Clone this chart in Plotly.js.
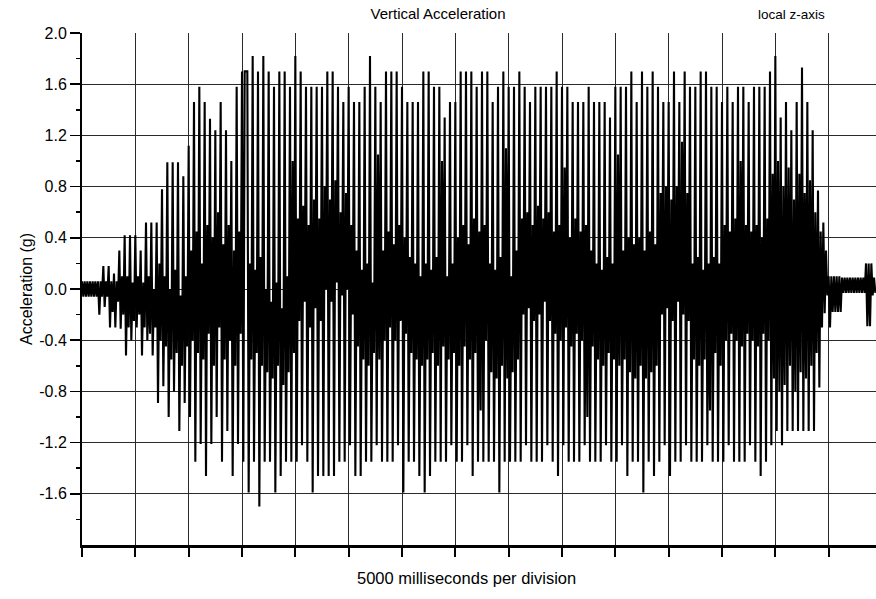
<!DOCTYPE html>
<html><head><meta charset="utf-8">
<script src="https://cdn.plot.ly/plotly-3.0.1.min.js"></script>
<style>html,body{margin:0;padding:0;background:#fff}</style>
</head><body><div id="chart" style="width:876px;height:599px"></div>
<script>
// sample spacing of the recorded trace (ms); 4 samples per oscillation cycle
const sampleStepMs = 125;
// per oscillation cycle: upper peak, lower peak, rebound high, rebound low (g)
const cycleHigh = [
 0.06,0.06,0.06,0.06,0.18,0.18,0.12,0.30,0.42,0.42,
 0.42,0.30,0.52,0.52,0.52,0.78,0.99,0.99,0.99,0.88,
 1.12,1.46,1.58,1.46,1.33,1.24,1.46,1.24,1.00,1.58,
 1.70,1.70,1.82,1.70,1.82,1.70,1.58,1.70,1.70,1.58,
 1.82,1.70,1.58,1.58,1.58,1.58,1.70,1.70,1.58,1.46,
 1.58,1.46,1.46,1.58,1.82,1.58,1.46,1.70,1.70,1.70,
 1.58,1.46,1.46,1.46,1.70,1.70,1.58,1.58,1.34,1.46,
 1.46,1.70,1.70,1.70,1.58,1.70,1.70,1.46,1.58,1.70,
 1.58,1.58,1.70,1.58,1.46,1.58,1.58,1.58,1.58,1.70,
 1.58,1.58,1.46,1.46,1.46,1.58,1.46,1.46,1.46,1.34,
 1.58,1.58,1.58,1.70,1.46,1.70,1.58,1.70,1.58,1.46,
 1.46,1.70,1.46,1.70,1.58,1.58,1.70,1.70,1.58,1.58,
 1.46,1.58,1.46,1.58,1.58,1.46,1.58,1.58,1.58,1.70,
 1.82,1.34,1.46,1.24,1.46,1.73,1.46,1.24,0.77,0.52,
 0.10,0.10,0.10,0.09,0.09,0.09,0.09,0.20,0.20
];
const cycleLow = [
 -0.06,-0.06,-0.06,-0.20,-0.14,-0.30,-0.30,-0.31,-0.52,-0.40,
 -0.30,-0.52,-0.40,-0.52,-0.89,-0.76,-1.00,-0.80,-1.11,-0.89,
 -1.00,-1.35,-1.21,-1.46,-1.21,-1.00,-1.35,-1.11,-1.46,-1.21,
 -1.35,-1.59,-1.35,-1.70,-1.35,-1.35,-1.59,-1.46,-1.35,-1.35,
 -1.35,-1.22,-1.35,-1.59,-1.46,-1.46,-1.46,-1.46,-1.35,-1.35,
 -1.22,-1.46,-1.46,-1.35,-1.35,-1.22,-1.35,-1.35,-1.35,-1.22,
 -1.59,-1.35,-1.35,-1.46,-1.59,-1.46,-1.35,-1.35,-1.35,-1.22,
 -1.35,-1.35,-1.22,-1.46,-1.35,-1.35,-1.35,-1.35,-1.59,-1.35,
 -1.35,-1.35,-1.35,-1.22,-1.35,-1.35,-1.35,-1.22,-1.35,-1.46,
 -1.22,-1.35,-1.35,-1.35,-1.22,-1.35,-1.35,-1.35,-1.22,-1.35,
 -1.35,-1.22,-1.46,-1.35,-1.35,-1.59,-1.35,-1.46,-1.35,-1.22,
 -1.46,-1.35,-1.35,-1.22,-1.35,-1.35,-1.35,-1.22,-1.35,-1.35,
 -1.35,-1.22,-1.35,-1.35,-1.35,-1.22,-1.35,-1.46,-1.35,-1.22,
 -1.11,-1.22,-1.11,-1.11,-1.11,-1.11,-1.11,-1.11,-0.77,-0.19,
 -0.30,-0.18,-0.18,-0.03,-0.03,-0.03,-0.03,-0.29,-0.05
];
const reboundHigh = [
 0.06,0.06,0.06,0.06,0.06,0.06,0.06,0.10,0.10,0.05,
 0.10,0.05,0.10,0.00,0.20,0.10,0.00,0.15,-0.05,0.10,
 0.30,0.45,0.20,0.50,0.40,0.60,0.35,0.50,0.30,0.45,
 1.70,0.20,0.15,0.25,0.00,-0.10,0.05,-0.15,0.10,1.00,
 0.55,0.65,0.50,0.70,0.55,0.80,0.70,0.85,0.60,0.75,
 0.50,0.30,0.15,0.20,0.05,1.05,0.30,0.45,0.35,0.50,
 0.40,0.25,0.20,0.10,0.20,0.15,0.25,1.00,0.10,0.20,
 0.40,0.50,0.35,0.55,0.45,0.50,0.20,0.15,0.25,1.10,
 0.10,0.30,0.55,0.60,0.50,0.65,0.55,0.60,0.45,0.50,
 0.95,0.40,0.55,0.45,0.50,0.30,0.20,0.15,0.25,0.20,
 1.05,0.30,0.40,0.35,0.40,0.30,0.45,0.35,0.75,0.80,
 0.70,0.80,1.15,0.75,0.20,0.25,0.15,0.20,0.25,0.20,
 0.50,0.45,0.55,1.00,0.50,0.45,0.50,0.40,0.55,0.90,
 1.00,0.80,0.95,0.70,0.90,0.75,0.85,0.60,0.45,0.30,
 0.10,0.10,0.09,0.09,0.09,0.09,0.09,0.20,0.09
];
const reboundLow = [
 -0.06,-0.06,-0.06,-0.06,-0.06,-0.18,-0.10,-0.20,-0.30,-0.25,
 -0.20,-0.30,-0.35,-0.30,-0.40,-0.45,-0.55,-0.50,-0.60,-0.45,
 -0.40,-0.50,-0.55,-0.35,-0.60,-0.30,-0.55,-0.40,-0.60,-0.35,
 1.70,-0.55,-0.50,-0.60,-0.65,-0.70,-0.60,-0.75,-0.65,-0.50,
 -0.25,-0.10,-0.30,-0.15,-0.25,0.00,-0.10,0.05,-0.05,0.00,
 -0.20,-0.45,-0.55,-0.60,-0.50,-0.55,-0.40,-0.30,-0.40,-0.25,
 -0.35,-0.50,-0.55,-0.60,-0.55,-0.50,-0.60,-0.45,-0.55,-0.50,
 -0.60,-0.45,-0.55,-0.50,-0.95,-0.40,-0.65,-0.70,-0.60,-0.70,
 -0.65,-0.55,-0.20,-0.15,-0.25,-0.20,-0.10,-0.25,-0.35,-0.40,
 -0.30,-0.45,-0.35,-0.40,-1.00,-0.45,-0.55,-0.60,-0.50,-0.55,
 -0.60,-0.55,-0.65,-0.70,-0.60,-0.70,-0.65,-0.60,-0.20,-0.15,
 -0.25,-0.10,-0.20,-0.25,-0.55,-0.60,-0.55,-0.95,-0.50,-0.60,
 -0.40,-0.35,-0.40,-0.45,-0.35,-0.40,-0.45,-0.35,-0.40,-0.70,
 -0.80,-0.75,-0.60,-0.80,-0.65,-0.70,-0.60,-0.50,-0.30,-0.05,
 -0.18,-0.18,-0.03,-0.03,-0.03,-0.03,-0.03,-0.29,-0.03
];
const yTickVals = [2.0,1.6,1.2,0.8,0.4,0.0,-0.4,-0.8,-1.2,-1.6];
const yTickText = ['2.0','1.6','1.2','0.8','0.4','0.0','-0.4','-0.8','-1.2','-1.6'];
const yMinorVals = [1.8,1.4,1.0,0.6,0.2,-0.2,-0.6,-1.0,-1.4,-1.8];

// interleave the cycle tables into the sampled series
const accel = [];
cycleHigh.forEach((h, k) => { accel.push(h, cycleLow[k], reboundHigh[k], reboundLow[k]); });

const trace = {
  type:'scatter', mode:'lines',
  y: accel, x0: 0, dx: sampleStepMs,
  line:{color:'#000', width:2.1, simplify:false},
  hoverinfo:'skip', showlegend:false
};
const layout = {
  width:876, height:599,
  margin:{l:82, r:0, t:33, b:54},
  paper_bgcolor:'#fff', plot_bgcolor:'#fff',
  font:{family:'"Liberation Sans", Arial, sans-serif', color:'#000'},
  title:{text:'Vertical Acceleration', font:{size:15, color:'#000'}, x:0.5, xref:'container', xanchor:'center', y:1-14/599, yref:'container', yanchor:'middle'},
  xaxis:{
    range:[0,74437], tickmode:'linear', tick0:0, dtick:5000,
    showticklabels:false, ticks:'outside', ticklen:9, tickwidth:2, tickcolor:'#000',
    minor:{ticks:'', showgrid:false},
    showgrid:true, gridcolor:'#2a2a2a', gridwidth:1,
    showline:true, linewidth:3, linecolor:'#000', zeroline:false,
    automargin:false
  },
  yaxis:{
    range:[-2,2], tickmode:'array', tickvals:yTickVals, ticktext:yTickText,
    ticks:'outside', ticklen:10, tickwidth:1.5, tickcolor:'#000',
    tickfont:{size:16, color:'#000'},
    showgrid:true, gridcolor:'#2a2a2a', gridwidth:1,
    showline:true, linewidth:2, linecolor:'#000', zeroline:false,
    minor:{tickmode:'array', tickvals:yMinorVals, ticks:'outside', ticklen:4, tickwidth:1.5, tickcolor:'#000', showgrid:false},
    title:{text:'Acceleration (g)', font:{size:16, color:'#000'}, standoff:3},
    automargin:false
  },
  annotations:[
    {text:'local z-axis', xref:'paper', yref:'paper', x:0.893, y:1.037, xanchor:'center', yanchor:'middle', showarrow:false, font:{size:13.5, color:'#000'}},
    {text:'5000 milliseconds per division', xref:'paper', yref:'paper', x:0.484, y:-0.0645, xanchor:'center', yanchor:'middle', showarrow:false, font:{size:16.5, color:'#000'}}
  ]
};
Plotly.newPlot('chart',[trace],layout,{staticPlot:true, displayModeBar:false});
</script></body></html>
